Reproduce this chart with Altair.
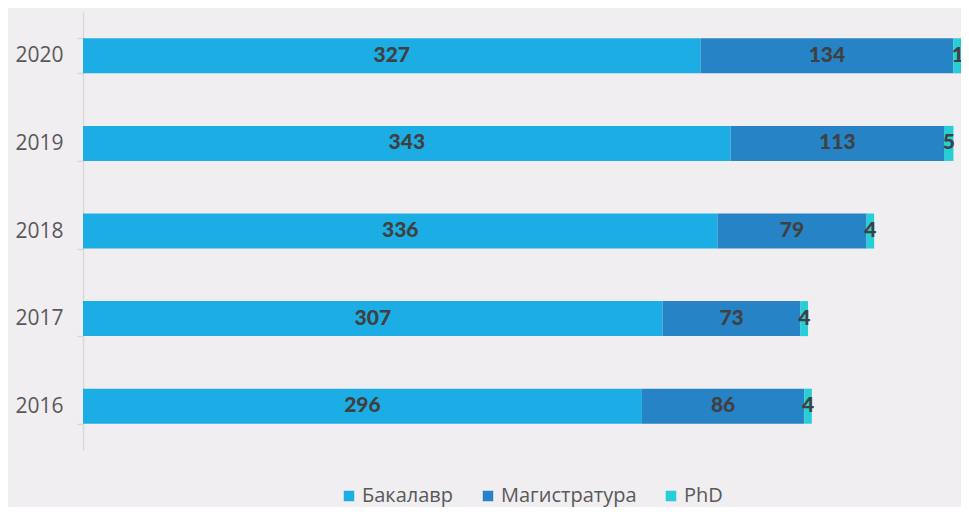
import altair as alt
import pandas as pd

years = ["2016", "2017", "2018", "2019", "2020"]
categories = ["Бакалавр", "Магистратура", "PhD"]
bachelor = [296, 307, 336, 343, 327]
master = [86, 73, 79, 113, 134]
phd = [4, 4, 4, 5, 11]
colors = ["#1CADE4", "#2683C6", "#27CED7"]

rows = []
for i, y in enumerate(years):
    for k, (cat, vals) in enumerate(zip(categories, [bachelor, master, phd])):
        rows.append({"year": y, "cat": cat, "ord": k, "value": vals[i]})
df = pd.DataFrame(rows)

base = alt.Chart(df).transform_stack(
    stack="value", groupby=["year"], sort=[alt.SortField("ord")], as_=["x0", "x1"]
).transform_calculate(mid="(datum.x0 + datum.x1) / 2")

xscale = alt.Scale(domain=[0, 465], zero=True, nice=False)
yenc = alt.Y(
    "year:N",
    sort="descending",
    title=None,
    scale=alt.Scale(paddingInner=0.6, paddingOuter=0.3),
    axis=alt.Axis(
        domainColor="#D9D9D9",
        domainWidth=1.5,
        tickColor="#D9D9D9",
        tickWidth=1.5,
        tickSize=6,
        tickBand="extent",
        labelPadding=14,
        labelFont="Open Sans",
        labelFontSize=21,
        labelColor="#595959",
    ),
)

bars = base.mark_bar(clip=True).encode(
    x=alt.X("x0:Q", scale=xscale, axis=None),
    x2="x1:Q",
    y=yenc,
    color=alt.Color(
        "cat:N",
        scale=alt.Scale(domain=categories, range=colors),
        legend=alt.Legend(
            title=None,
            orient="none",
            direction="horizontal",
            legendX=256,
            legendY=474,
            symbolType="square",
            symbolSize=110,
            symbolStrokeWidth=0,
            labelFont="Open Sans",
            labelFontSize=20,
            labelColor="#595959",
            labelOffset=3,
            columnPadding=24,
            padding=0,
        ),
    ),
)

labels = base.mark_text(
    clip=True, font="Lato", fontWeight=900, fontSize=21, color="#404040"
).encode(
    x=alt.X("mid:Q", scale=xscale),
    y=alt.Y("year:N", sort="descending"),
    text="value:Q",
)

chart = (
    alt.layer(bars, labels)
    .properties(
        width=878,
        height=438,
        background="#F0EEF1",
        padding={"left": 75, "top": 4, "right": 0, "bottom": 57},
        autosize=alt.AutoSizeParams(type="none"),
    )
    .configure_view(stroke=None)
)

chart.save("out.html", embed_options={"renderer": "svg", "actions": False})
